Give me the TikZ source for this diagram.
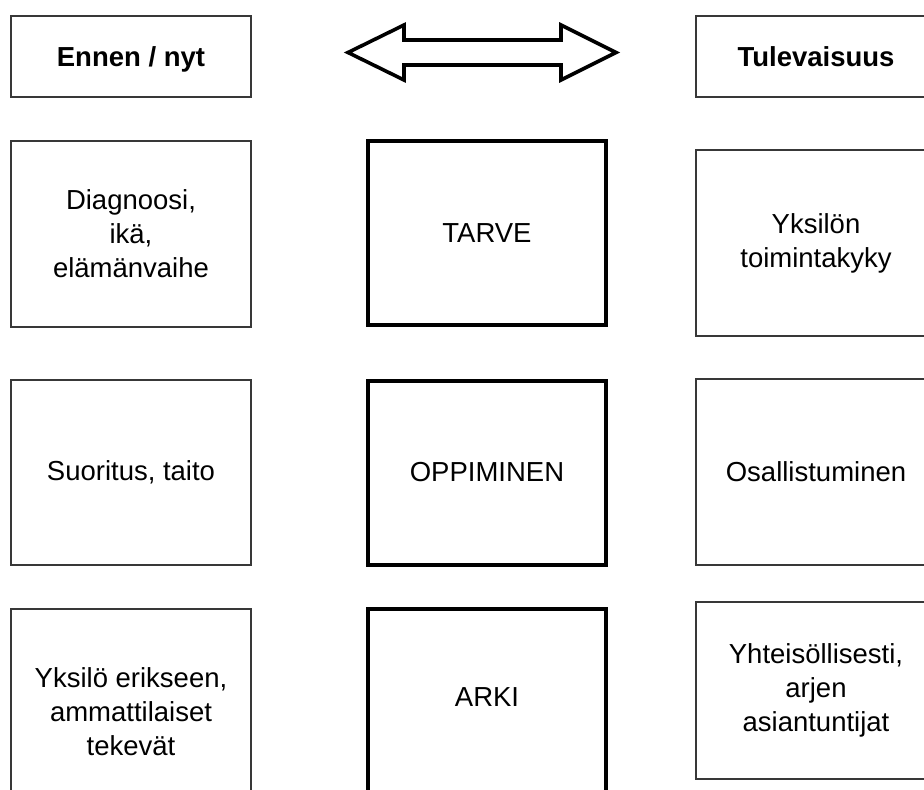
\documentclass[tikz,border=0pt]{standalone}
\usepackage{fontspec}
\setmainfont{Liberation Sans}
\begin{document}
\begin{tikzpicture}[x=1pt,y=-1pt,
  txt/.style={font=\fontsize{27.5}{34}\selectfont, align=center, inner sep=0pt},
  thinbox/.style={draw=black!78, line width=1.3pt, rectangle, inner sep=0pt,
    minimum width=240pt, font=\fontsize{27.5}{34}\selectfont, align=center},
  thickbox/.style={draw=black, line width=4pt, rectangle, inner sep=0pt,
    minimum width=238pt, font=\fontsize{27.5}{34}\selectfont, align=center},
  headbox/.style={thinbox, minimum height=81pt, font=\bfseries\fontsize{27.5}{34}\selectfont},
  bigarrow/.style={draw=black, line width=3.6pt, line join=miter, fill=white}]
\useasboundingbox (0,0) rectangle (924,790);
\clip (0,0) rectangle (924,790);
% header row
\node[headbox, text depth=0pt] (past) at (131,56.5) {Ennen / nyt};
\node[headbox] (future) at (816,56.5) {Tulevaisuus};
% double arrow
\coordinate (al) at (348,52.5);
\coordinate (ar) at (616,52.5);
\draw[bigarrow] (al) -- (404,25) -- (404,40) -- (561,40) -- (561,25) -- (ar)
  -- (561,80) -- (561,65) -- (404,65) -- (404,80) -- cycle;
% row 2
\node[thinbox, minimum height=186pt] (l2) at (131,234) {Diagnoosi,\\ikä,\\elämänvaihe};
\node[thickbox, minimum height=184pt] (m2) at (487,233) {TARVE};
\node[thinbox, minimum height=186pt] (r2) at (816,243) {Yksilön\\toimintakyky};
% row 3
\node[thinbox, minimum height=185pt] (l3) at (131,472.5) {Suoritus, taito};
\node[thickbox, minimum height=184pt] (m3) at (487,472.5) {OPPIMINEN};
\node[thinbox, minimum height=186pt] (r3) at (816,472) {Osallistuminen};
% row 4
\node[thinbox, minimum height=206pt] (l4) at (131,712) {Yksilö erikseen,\\ammattilaiset\\tekevät};
\node[thickbox, minimum height=200pt] (m4) at (487,709) {};
\node[txt] (m4t) at (487,697) {ARKI};
\node[thinbox, minimum height=177pt] (r4) at (816,690.5) {Yhteisöllisesti,\\arjen\\asiantuntijat};
\end{tikzpicture}
\end{document}
